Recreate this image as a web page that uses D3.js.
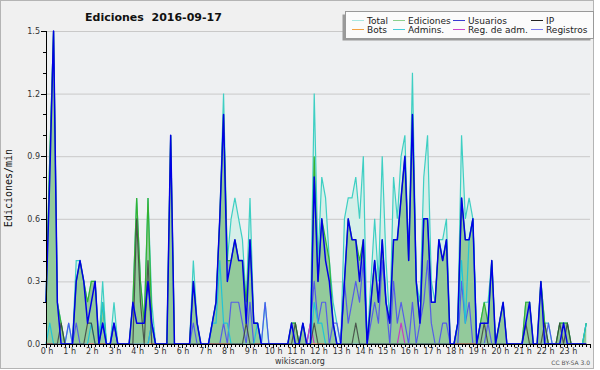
<!DOCTYPE html>
<html>
<head>
<meta charset="utf-8">
<script src="https://cdn.jsdelivr.net/npm/d3@7"></script>
<style>
  html, body { margin: 0; padding: 0; background: #fff; }
  svg { display: block; font-family: "DejaVu Sans", sans-serif; }
</style>
</head>
<body>
<svg id="chart" width="600" height="370"></svg>
<script>
// edits per minute, one value per 10 minutes (144 slots)
const hourLabels = d3.range(24).map(h => h + ' h')
const yTicks = [0, 0.3, 0.6, 0.9, 1.2, 1.5]

const total = [
  0.2,0.9,1.5,0.2,0.1,0, 0.1,0,0.4,0.4,0.3,0.2, 0.3,0.3,0,0.3,0,0, 0.2,0,0,0,0,0.2,
  0.7,0.3,0.1,0.7,0.2,0, 0,0,0,1.0,0,0, 0,0,0,0.4,0.1,0, 0,0,0.1,0.2,0.6,1.2,
  0.4,0.6,0.7,0.6,0.5,0.2, 0.7,0.1,0.1,0,0.2,0, 0,0,0,0,0,0.1, 0.1,0,0.1,0,0.1,1.2,
  0.4,0.8,0.7,0.4,0.2,0.1, 0,0.6,0.7,0.7,0.8,0.6, 0.9,0,0.3,0.6,0.3,0.9, 0.4,0.1,0.8,0.6,0.9,1.0,
  0.4,1.3,0.3,0.2,0.8,1.0, 0.3,0.2,0.5,0.5,0.6,0, 0,0.1,1.0,0.6,0.7,0.6, 0,0.1,0.2,0.2,0.4,0,
  0.1,0.2,0,0,0,0, 0,0.2,0.2,0,0,0.3, 0.1,0.1,0,0,0.1,0.1, 0.1,0,0,0,0,0.1
]
const ediciones = [
  0.2,0.9,1.5,0.2,0.1,0, 0,0,0.3,0.4,0.3,0.2, 0.3,0.3,0,0.2,0,0, 0.1,0,0,0,0,0.2,
  0.7,0.3,0.1,0.7,0.1,0, 0,0,0,1.0,0,0, 0,0,0,0.3,0.1,0, 0,0,0.1,0.2,0.6,1.1,
  0.4,0.4,0.5,0.4,0.4,0.2, 0.5,0.1,0.1,0,0,0, 0,0,0,0,0,0.1, 0.1,0,0.1,0,0,0.9,
  0.3,0.6,0.5,0.4,0.1,0, 0,0.3,0.6,0.5,0.5,0.4, 0.5,0,0.2,0.4,0.2,0.5, 0.2,0.1,0.5,0.5,0.7,0.9,
  0.4,1.1,0.3,0.1,0.6,0.6, 0.2,0.2,0.5,0.4,0.5,0, 0,0.1,0.7,0.5,0.5,0.6, 0,0.1,0.2,0.1,0.4,0,
  0.1,0.2,0,0,0,0, 0,0.2,0.2,0,0,0.3, 0.1,0,0,0,0.1,0.1, 0.1,0,0,0,0,0.1
]
const usuarios = [
  0.2,0.8,1.5,0.2,0,0, 0,0,0.3,0.4,0.3,0.1, 0.2,0.3,0,0.1,0,0, 0.1,0,0,0,0,0.2,
  0.1,0.1,0.1,0.3,0.1,0, 0,0,0,1.0,0,0, 0,0,0,0.3,0.1,0, 0,0,0.1,0.2,0.6,1.1,
  0.3,0.4,0.5,0.4,0.4,0.1, 0.5,0.1,0.1,0,0,0, 0,0,0,0,0,0.1, 0,0,0.1,0,0,0.8,
  0.3,0.6,0.4,0.3,0.1,0, 0,0.3,0.6,0.5,0.5,0.3, 0.5,0,0.2,0.4,0.2,0.5, 0.2,0.1,0.5,0.5,0.7,0.9,
  0.4,1.1,0.3,0.1,0.6,0.6, 0.2,0.2,0.5,0.4,0.5,0, 0,0.1,0.7,0.5,0.5,0.6, 0,0.1,0.1,0.1,0.4,0,
  0.1,0.2,0,0,0,0, 0,0.1,0.2,0,0,0.3, 0,0,0,0,0,0.1, 0,0,0,0,0,0
]
const ip = [
  0,0,0,0,0.1,0, 0,0,0,0,0,0.1, 0.1,0,0,0,0,0, 0,0,0,0,0,0,
  0.6,0.2,0,0.4,0,0, 0,0,0,0,0,0, 0,0,0,0,0,0, 0,0,0,0,0,0,
  0,0,0,0,0,0.1, 0,0,0,0,0,0, 0,0,0,0,0,0, 0.1,0,0,0,0,0.1,
  0,0,0,0,0,0, 0,0,0,0,0.1,0, 0,0,0,0,0,0, 0,0,0,0,0,0,
  0,0,0,0,0,0, 0,0,0,0,0,0, 0,0,0,0,0,0, 0,0,0.1,0,0,0,
  0,0,0,0,0,0, 0,0.1,0,0,0,0, 0.1,0,0,0,0.1,0, 0.1,0,0,0,0,0
]
const bots = [
  0,0,0,0,0,0, 0,0,0,0,0,0, 0,0,0,0,0,0, 0,0,0,0,0,0,
  0,0,0,0,0,0, 0,0,0,0,0,0, 0,0,0,0,0,0, 0,0,0,0,0,0,
  0,0,0,0,0,0, 0,0,0,0,0,0, 0,0,0,0,0,0, 0,0,0,0,0,0,
  0,0,0,0,0,0, 0,0,0,0,0,0, 0,0,0,0,0,0, 0,0,0,0,0,0,
  0,0,0,0,0,0, 0,0,0,0,0,0, 0,0,0,0,0,0, 0,0,0,0,0,0,
  0,0,0,0,0,0, 0,0,0,0,0,0, 0,0,0,0,0,0, 0,0,0,0,0,0
]
const admins = [
  0,0.1,0,0,0,0, 0,0,0,0,0,0, 0.1,0,0,0.2,0,0, 0,0,0,0,0,0,
  0,0,0,0,0.1,0, 0,0,0,0,0,0, 0,0,0,0,0,0, 0,0,0.1,0.1,0.4,0.1,
  0.1,0,0,0,0,0, 0,0,0.1,0,0,0, 0,0,0,0,0,0, 0,0,0,0,0,0.2,
  0.1,0.1,0,0,0,0, 0,0,0,0,0,0, 0,0,0,0,0,0, 0,0,0,0,0,0,
  0,0,0,0,0,0, 0,0,0,0,0,0, 0,0.1,0.4,0.1,0.5,0.6, 0,0,0,0,0,0,
  0,0,0,0,0,0, 0,0,0,0,0,0, 0,0,0,0,0,0, 0,0,0,0,0,0.1
]
const regAdm = [
  0,0,0,0,0,0, 0,0,0,0,0,0, 0,0,0,0,0,0, 0,0,0,0,0,0,
  0,0,0,0,0,0, 0,0,0,0,0,0, 0,0,0,0,0,0, 0,0,0,0,0,0,
  0,0,0,0,0,0, 0,0,0,0,0,0, 0,0,0,0,0,0, 0,0,0,0,0.1,0,
  0,0,0,0,0,0, 0,0,0,0,0,0, 0,0,0,0,0,0, 0,0,0,0,0.1,0,
  0,0,0,0,0,0, 0,0,0,0,0,0, 0,0,0,0,0,0, 0,0,0,0,0,0,
  0,0,0,0,0,0, 0,0,0,0,0,0, 0,0,0,0,0,0, 0,0,0,0,0,0
]
const registros = [
  0,0,0,0,0,0, 0.1,0,0.1,0,0,0, 0,0,0,0.1,0,0, 0.1,0,0,0,0,0,
  0,0,0,0,0.1,0, 0,0,0,0,0,0, 0,0,0,0.1,0,0, 0,0,0,0,0,0.1,
  0,0.2,0.2,0.2,0.1,0, 0.2,0,0,0,0.2,0, 0,0,0,0,0,0, 0,0,0,0,0.1,0.3,
  0.1,0.2,0.2,0,0.1,0.1, 0,0.3,0.1,0.2,0.3,0.2, 0.4,0,0.1,0.2,0.1,0.4, 0.2,0,0.3,0.1,0.2,0.1,
  0,0.2,0,0.1,0.2,0.4, 0.1,0,0,0.1,0.1,0, 0,0,0.3,0.1,0.2,0, 0,0,0,0.1,0,0,
  0,0,0,0,0,0, 0,0,0,0,0,0, 0,0.1,0,0,0,0, 0,0,0,0,0,0
]

let svg = d3.select('#chart')

// frame and plot background
svg.append('rect').attr('x', 0.5).attr('y', 0.5).attr('width', 593).attr('height', 368)
    .attr('fill', '#f0f0f0').attr('stroke', '#b4b4b4')

let x = d3.scaleLinear().domain([0, 144]).range([46, 590])
let y = d3.scaleLinear().domain([0, 1.5]).range([344, 31])

svg.append('rect').attr('x', 46).attr('y', 31).attr('width', 544).attr('height', 313)
    .attr('fill', '#eef0f2')

// grid
svg.append('g').selectAll('line').data(yTicks.slice(1)).enter().append('line')
    .attr('x1', 46).attr('x2', 590)
    .attr('y1', d => y(d) + 0.5).attr('y2', d => y(d) + 0.5)
    .attr('stroke', '#c9c9c9')

let area = (vals) => d3.area()
    .x((d, i) => x(i)).y0(y(0)).y1(d => y(d))(vals)
let line = (vals) => d3.line()
    .x((d, i) => x(i)).y(d => y(d))(vals)

// areas
svg.append('path').attr('d', area(total)).attr('fill', '#d6efe9')
svg.append('path').attr('d', line(total)).attr('fill', 'none')
    .attr('stroke', '#3ecfc3').attr('stroke-width', 1.2)
svg.append('path').attr('d', area(ediciones)).attr('fill', '#93ca9b')
svg.append('path').attr('d', line(ediciones)).attr('fill', 'none')
    .attr('stroke', '#33b233').attr('stroke-width', 1.2)

// lines
let series = [
    { name: 'Registros', vals: registros, color: '#4a4af5', w: 1.2, op: 0.85 },
    { name: 'Reg. de adm.', vals: regAdm, color: '#c43cc4', w: 1.2, op: 1 },
    { name: 'Bots', vals: bots, color: '#f0a040', w: 1.2, op: 1 },
    { name: 'Admins.', vals: admins, color: '#22c4d6', w: 1.2, op: 1 },
    { name: 'IP', vals: ip, color: '#3a3a3a', w: 1.2, op: 0.8 },
    { name: 'Usuarios', vals: usuarios, color: '#0000e6', w: 1.5, op: 1 }
]
svg.append('g').selectAll('path').data(series).enter().append('path')
    .attr('d', s => line(s.vals))
    .attr('fill', 'none')
    .attr('stroke', s => s.color)
    .attr('stroke-width', s => s.w)
    .attr('stroke-opacity', s => s.op)
    .attr('stroke-linejoin', 'round')

// axes
let axisG = svg.append('g').attr('stroke', '#000').attr('shape-rendering', 'crispEdges')
axisG.append('line').attr('x1', 46).attr('x2', 46).attr('y1', 31).attr('y2', 344)
axisG.append('line').attr('x1', 46).attr('x2', 590).attr('y1', 344.5).attr('y2', 344.5)
axisG.selectAll('.ymin').data(d3.range(0, 16)).enter().append('line')
    .attr('x1', d => d % 3 === 0 ? 41 : 43).attr('x2', 46)
    .attr('y1', d => Math.round(y(d / 10)) + 0.5).attr('y2', d => Math.round(y(d / 10)) + 0.5)
axisG.selectAll('.xmin').data(d3.range(0, 145)).enter().append('line')
    .attr('x1', d => Math.round(x(d)) + 0.5).attr('x2', d => Math.round(x(d)) + 0.5)
    .attr('y1', 344).attr('y2', d => d % 6 === 0 ? 348 : 347)

svg.append('g').selectAll('text').data(yTicks).enter().append('text')
    .attr('x', 40).attr('y', d => y(d) + 3)
    .attr('text-anchor', 'end').attr('font-size', 8).attr('fill', '#333')
    .text(d => d.toFixed(1))

svg.append('g').selectAll('text').data(hourLabels).enter().append('text')
    .attr('x', (d, i) => x(i * 6) + 1).attr('y', 354)
    .attr('text-anchor', 'middle').attr('font-size', 8).attr('fill', '#333')
    .text(d => d)

svg.append('text')
    .attr('transform', 'translate(12,188) rotate(-90)')
    .attr('text-anchor', 'middle')
    .attr('font-family', '"DejaVu Sans Mono", monospace')
    .attr('font-size', 10).attr('fill', '#111')
    .text('Ediciones/min')

svg.append('text').attr('x', 85).attr('y', 21)
    .attr('font-weight', 'bold').attr('font-size', 11).attr('fill', '#111')
    .attr('xml:space', 'preserve')
    .text('Ediciones  2016-09-17')

svg.append('text').attr('x', 300).attr('y', 364)
    .attr('text-anchor', 'middle').attr('font-size', 8).attr('fill', '#333')
    .text('wikiscan.org')
svg.append('text').attr('x', 590).attr('y', 365)
    .attr('text-anchor', 'end').attr('font-size', 6).attr('fill', '#555')
    .text('CC BY-SA 3.0')

// legend
let legendItems = [
    { name: 'Total', color: '#a8e6e0' },
    { name: 'Ediciones', color: '#8ccf8c' },
    { name: 'Usuarios', color: '#3a3ad0' },
    { name: 'IP', color: '#222' },
    { name: 'Bots', color: '#f4a040' },
    { name: 'Admins.', color: '#44ccd8' },
    { name: 'Reg. de adm.', color: '#cc44cc' },
    { name: 'Registros', color: '#7777ee' }
]
let colX = [352, 393, 453, 531]
let rowY = [20, 29]
svg.append('rect').attr('x', 342.5).attr('y', 14.5).attr('width', 248).attr('height', 26)
    .attr('fill', '#9a9a9a')
svg.append('rect').attr('x', 345.5).attr('y', 11.5).attr('width', 248).attr('height', 27)
    .attr('fill', '#fbfbfb').attr('stroke', '#999')
let leg = svg.append('g').selectAll('g').data(legendItems).enter().append('g')
    .attr('transform', (d, i) => 'translate(' + colX[i % 4] + ',' + rowY[Math.floor(i / 4)] + ')')
leg.append('line').attr('x1', 0).attr('x2', 12).attr('y1', 0.5).attr('y2', 0.5)
    .attr('stroke', d => d.color).attr('stroke-width', 1)
leg.append('text').attr('x', 15).attr('y', 3.5)
    .attr('font-size', 9).attr('fill', '#222')
    .text(d => d.name)
</script>
</body>
</html>
